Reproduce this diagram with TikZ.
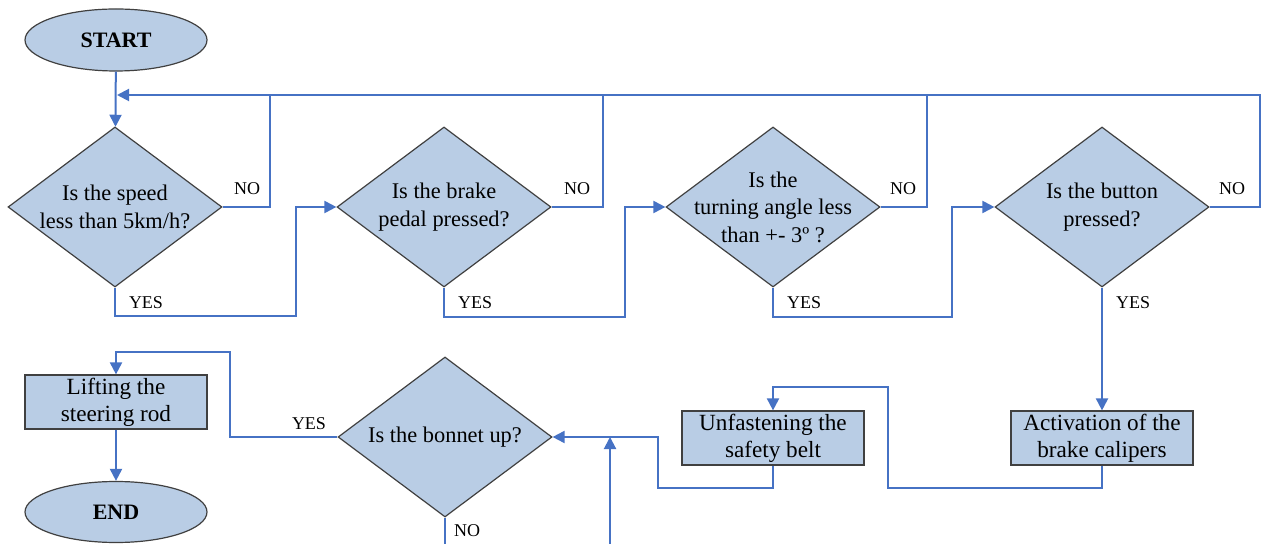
\documentclass[tikz,border=0pt]{standalone}
\usepackage{fontspec}
\setmainfont{Liberation Serif}
\usetikzlibrary{shapes.geometric,arrows.meta}
\definecolor{boxfill}{RGB}{185,205,229}
\definecolor{flowblue}{RGB}{70,114,196}
\definecolor{edgegray}{RGB}{64,64,64}
\tikzset{
	terminal/.style={ellipse,draw=edgegray,line width=0.6pt,fill=boxfill,minimum width=91pt,minimum height=31pt,inner sep=0pt,font=\bfseries\fontsize{11}{13}\selectfont},
	decision/.style={diamond,draw=edgegray,line width=0.6pt,fill=boxfill,minimum width=107pt,minimum height=80pt,inner sep=0pt},
	process/.style={rectangle,draw=edgegray,line width=0.6pt,fill=boxfill,minimum width=91pt,minimum height=27pt,inner sep=0pt,align=center,font=\fontsize{11.6}{13.6}\selectfont},
	flow/.style={draw=flowblue,line width=1pt},
	arr/.style={flow,-{Triangle[length=6pt,width=6pt]}},
	answer/.style={inner sep=0pt,font=\fontsize{9}{10}\selectfont}
}
\newcommand{\question}[3]{
	\node[decision,label={[align=center,font=\fontsize{11.2}{13.8}\selectfont]center:{#3}}] (#1) at (#2) {};
}

\begin{document}
\begin{tikzpicture}[x=0.5pt,y=-0.5pt]
	\useasboundingbox (0,0) rectangle (1261,544);
	\node[terminal] (start) at (116,40) {START};
	\question{speed}{115,207}{Is the speed\\less than 5km/h?}
	\question{brake}{444,207}{Is the brake\\pedal pressed?}
	\question{angle}{773,207}{Is the\\turning angle less\\than +- 3º ?}
	\question{button}{1102,207}{Is the button\\pressed?}
	\question{bonnet}{445,437}{Is the bonnet up?}
	\node[process] (lift) at (116,402) {Lifting the\\steering rod};
	\node[process] (belt) at (773,438) {Unfastening the\\safety belt};
	\node[process] (calip) at (1102,438) {Activation of the\\brake calipers};
	\node[terminal,minimum height=30.5pt] (end) at (116,512) {END};
	\coordinate (loop) at (117,95);
	\coordinate (nocut) at (445,544);
	\coordinate (upcut) at (610,544);
	\coordinate (upin) at (610,437);

	\draw[arr] (start) -- (speed);
	\draw[arr] (button.east) -| (1260,95) -- (loop);
	\draw[flow] (speed.east) -| (270,95);
	\draw[flow] (brake.east) -| (603,95);
	\draw[flow] (angle.east) -| (927,95);
	\draw[arr] (speed.south) |- (296,316) |- (brake.west);
	\draw[arr] (brake.south) |- (625,317) |- (angle.west);
	\draw[arr] (angle.south) |- (952,317) |- (button.west);
	\draw[arr] (button) -- (calip);
	\draw[arr] (calip.south) |- (888,488) -- (888,387) -| (belt.north);
	\draw[arr] (belt.south) |- (658,488) |- (bonnet.east);
	\draw[arr] (bonnet.west) -| (230,352) -| (lift.north);
	\draw[arr] (lift) -- (end);
	\draw[flow] (bonnet.south) -- (nocut);
	\draw[arr] (upcut) -- (upin);

	\node[answer] (no1) at (247,189) {NO};
	\node[answer] (no2) at (577,189) {NO};
	\node[answer] (no3) at (903,189) {NO};
	\node[answer] (no4) at (1232,189) {NO};
	\node[answer] (no5) at (467,531) {NO};
	\node[answer] (yes1) at (146,303) {YES};
	\node[answer] (yes2) at (475,303) {YES};
	\node[answer] (yes3) at (804,303) {YES};
	\node[answer] (yes4) at (1133,303) {YES};
	\node[answer] (yes5) at (309,424) {YES};
\end{tikzpicture}
\end{document}
